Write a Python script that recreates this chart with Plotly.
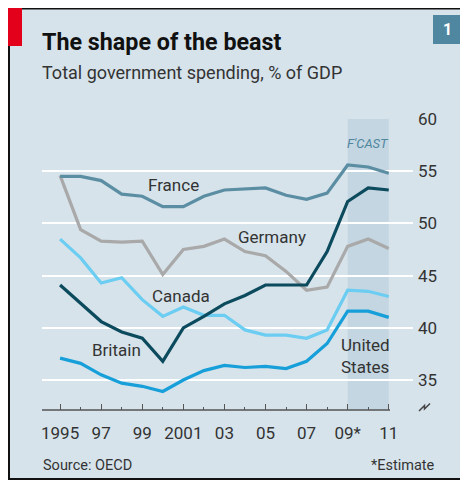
import plotly.graph_objects as go

# ---------------- data ----------------
years = list(range(1995, 2012))
france = [54.5, 54.5, 54.1, 52.8, 52.6, 51.6, 51.6, 52.6, 53.2, 53.3, 53.4, 52.7, 52.3, 52.9, 55.6, 55.4, 54.8]
germany = [54.6, 49.4, 48.3, 48.2, 48.3, 45.1, 47.5, 47.8, 48.5, 47.3, 46.9, 45.4, 43.6, 43.9, 47.8, 48.5, 47.6]
canada = [48.5, 46.7, 44.3, 44.8, 42.7, 41.1, 42.0, 41.2, 41.2, 39.8, 39.3, 39.3, 39.0, 39.8, 43.6, 43.5, 43.0]
britain = [44.1, 42.3, 40.6, 39.6, 39.0, 36.8, 40.0, 41.1, 42.3, 43.1, 44.1, 44.1, 44.1, 47.3, 52.1, 53.4, 53.2]
united_states = [37.1, 36.6, 35.5, 34.7, 34.4, 33.9, 35.0, 35.9, 36.4, 36.2, 36.3, 36.1, 36.8, 38.5, 41.6, 41.6, 41.0]

x_tickvals = [1995, 1997, 1999, 2001, 2003, 2005, 2007, 2009, 2011]
x_ticktext = ["1995", "97", "99", "2001", "03", "05", "07", "09*", "11"]
y_tickvals = [35, 40, 45, 50, 55, 60]
forecast_start, forecast_end = 2009, 2011

# ---------------- style ----------------
OFF = 8  # page body margin
W, H = 468 - OFF, 482 - OFF
PL, PR, PT, PB = 42, 413, 119, 410  # plot edges in page pixels
ML, MR, MT, MB = PL - OFF, W - (PR - OFF), PT - OFF, H - (PB - OFF)
PW, PH = PR - PL, PB - PT
BG = "#d6e3eb"
SHADE = "#c4d6e1"
TXT = "#333333"
FONT = "Roboto, Lato, sans-serif"

def px(x):
    return (x - PL) / PW

def py(y):
    return (PB - y) / PH

fig = go.Figure()

series = [
    ("Germany", germany, "#a9a9a9"),
    ("France", france, "#5b8ea3"),
    ("Canada", canada, "#6ccdf2"),
    ("United States", united_states, "#179fd9"),
    ("Britain", britain, "#0c4a5d"),
]
for name, vals, col in series:
    fig.add_trace(go.Scatter(x=years, y=vals, mode="lines", name=name,
                             line=dict(color=col, width=3.2), showlegend=False,
                             hoverinfo="skip"))

shapes = [
    dict(type="rect", xref="paper", yref="paper", x0=px(9), x1=px(480), y0=py(8.5), y1=py(479),
         fillcolor=BG, line=dict(color="#111111", width=2), layer="below"),
    dict(type="rect", xref="paper", yref="paper", x0=px(8), x1=px(22), y0=py(8), y1=py(46),
         fillcolor="#e3001b", line=dict(width=0), layer="below"),
    dict(type="rect", xref="paper", yref="paper", x0=px(433), x1=px(462), y0=py(15), y1=py(44),
         fillcolor="#4f87a0", line=dict(width=0), layer="below"),
    dict(type="rect", xref="x", yref="paper", x0=forecast_start, x1=forecast_end, y0=0, y1=1,
         fillcolor=SHADE, line=dict(width=0), layer="below"),
    dict(type="line", xref="paper", yref="paper", x0=0, x1=px(390), y0=0, y1=0,
         line=dict(color="#555555", width=1.5)),
    dict(type="path", xref="paper", yref="paper",
         path=f"M{px(419)},{py(411)} L{px(424.5)},{py(405.5)} L{px(424.5)},{py(409)} L{px(430)},{py(403.5)}",
         line=dict(color="#444444", width=1.5)),
]

def ann(text, x, y, size, xanchor="left", color=TXT, xref="paper", yref="paper", **kw):
    return dict(text=text, x=x, y=y, xref=xref, yref=yref, xanchor=xanchor, yanchor="middle",
                showarrow=False, font=dict(size=size, color=color, family=FONT), **kw)

annotations = [
    ann("<b>The shape of the beast</b>", px(40), py(42), 23.3, color="#111111"),
    ann("Total government spending, % of GDP", px(40), py(73), 18),
    ann("<b>1</b>", px(447.5), py(29.5), 16, xanchor="center", color="white"),
    ann("Source: OECD", px(41), py(465), 14.5),
    ann("*Estimate", px(437), py(465), 14.5, xanchor="right"),
    ann("<i>F'CAST</i>", 2010, 57.7, 13, xanchor="center", color="#4f87a0", xref="x", yref="y"),
    ann("France", 2000.52, 53.68, 17, xanchor="center", xref="x", yref="y"),
    ann("Germany", 2005.32, 48.7, 17, xanchor="center", xref="x", yref="y"),
    ann("Canada", 2000.89, 43.05, 17, xanchor="center", xref="x", yref="y"),
    ann("Britain", 1997.75, 37.87, 17, xanchor="center", xref="x", yref="y"),
    ann("United<br>States", 2008.6, 37.3, 17, xref="x", yref="y", align="left"),
]

fig.update_layout(
    width=W, height=H,
    margin=dict(l=ML, r=MR, t=MT, b=MB, pad=0),
    paper_bgcolor="white",
    plot_bgcolor="rgba(0,0,0,0)",
    font=dict(family=FONT, color=TXT, size=17),
    shapes=shapes,
    annotations=annotations,
    xaxis=dict(range=[1994.12, 2012.18], tickvals=x_tickvals, ticktext=x_ticktext,
               ticks="inside", ticklen=6, tickcolor="#555555", tickwidth=1,
               minor=dict(tickvals=[y for y in years if y not in x_tickvals], ticks="inside",
                          ticklen=3, tickcolor="#555555", tickwidth=1),
               showgrid=False, zeroline=False, showline=False,
               tickfont=dict(size=17, color=TXT), ticklabelstandoff=11, fixedrange=True),
    yaxis=dict(range=[32.13, 60], tickvals=y_tickvals, side="right",
               showgrid=True, gridcolor="white", gridwidth=2.2, zeroline=False, showline=False,
               ticks="", tickfont=dict(size=17, color=TXT), ticklabelstandoff=4, fixedrange=True),
)

fig.write_html("out.html")
